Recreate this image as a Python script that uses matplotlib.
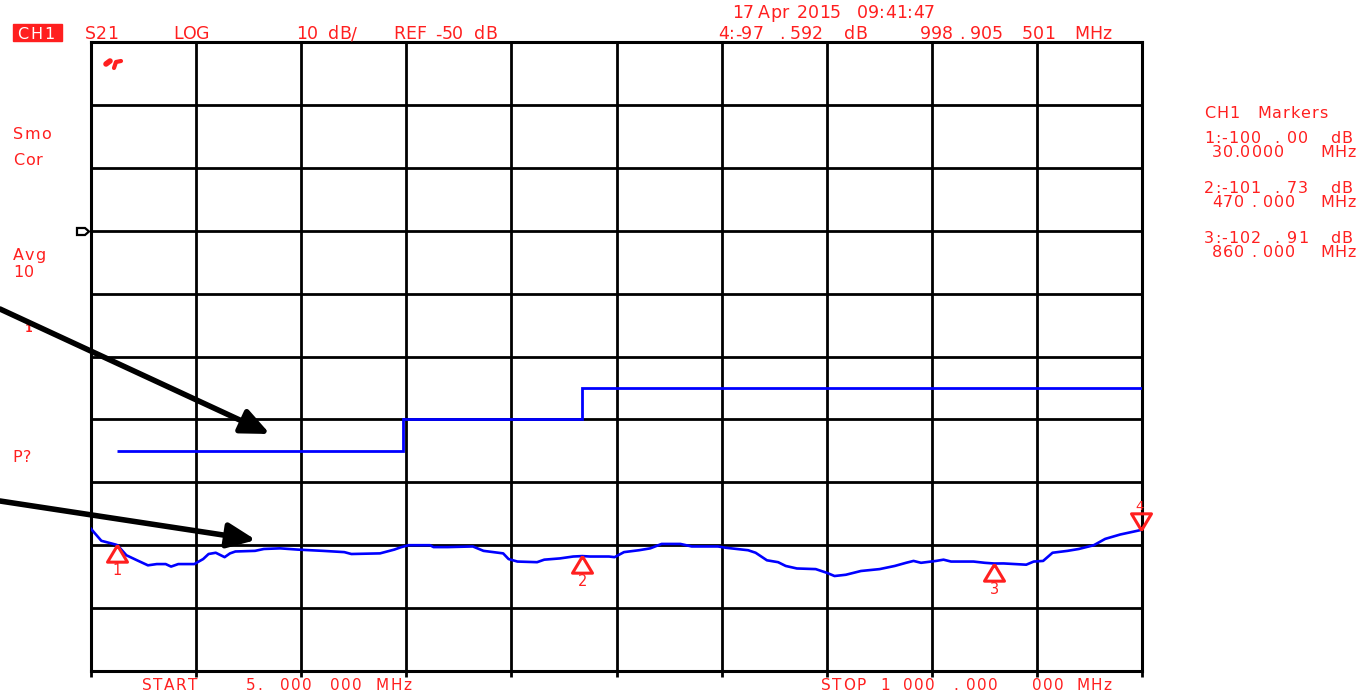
import numpy as np
import matplotlib
matplotlib.use("Agg")
import matplotlib.pyplot as plt
from matplotlib.patches import FancyArrowPatch, Polygon, ArrowStyle, Rectangle
from matplotlib.font_manager import FontProperties, findfont, get_font

# ---------------- data ----------------
freq_mhz = [5, 14.8, 28.4, 30, 38.5, 48.6, 58.9, 67.3, 75.7, 80.8, 87.6, 102.8,
            111.2, 116.3, 123.1, 131.5, 136.6, 141.7, 160.3, 168.7, 184, 200.8,
            224.5, 244.8, 251.5, 278.6, 292.1, 298.9, 305.6, 325.9, 329.3, 342.8,
            366.5, 376.6, 395.2, 400.3, 408.7, 427.3, 434.1, 449, 461.5, 470,
            477.5, 495.4, 500.7, 509.6, 523.8, 534.5, 545.2, 563, 573.7, 598.6,
            605.7, 627.1, 634.2, 644.9, 655.5, 662.7, 673.3, 691.1, 701.8, 708.9,
            719.6, 733.9, 751.6, 765.9, 776.6, 783.7, 790.8, 805, 812.1, 819.2,
            840.5, 851.2, 860, 869, 890.4, 897.5, 906.4, 915.3, 929.5, 940.2,
            954.4, 965.1, 979.4, 998.9, 1000]
s21_db = [-97.4, -99.3, -99.9, -100.0, -101.6, -102.4, -103.2, -103.0, -103.0, -103.4,
          -103.0, -103.0, -102.2, -101.4, -101.2, -101.9, -101.3, -101.0, -100.9,
          -100.6, -100.5, -100.7, -100.9, -101.1, -101.4, -101.3, -100.7, -100.3,
          -100.0, -100.0, -100.3, -100.3, -100.2, -100.9, -101.3, -102.2, -102.6,
          -102.7, -102.3, -102.1, -101.8, -101.73, -101.8, -101.8, -101.9, -101.1,
          -100.8, -100.5, -99.8, -99.8, -100.2, -100.2, -100.4, -100.8, -101.2,
          -102.4, -102.7, -103.3, -103.7, -103.8, -104.4, -104.9, -104.7, -104.1,
          -103.8, -103.3, -102.8, -102.5, -102.8, -102.5, -102.3, -102.6, -102.6,
          -102.8, -102.91, -102.9, -103.1, -102.6, -102.5, -101.2, -100.9, -100.6,
          -100.0, -99.0, -98.3, -97.59, -97.5]

limit_edges_mhz = [30, 300, 470, 1000]
limit_db = [-85, -80, -75]

marker_ids = ["1", "2", "3", "4"]
marker_freq = [30.0, 470.0, 860.0, 998.905501]
marker_db = [-100.00, -101.73, -102.91, -97.592]

start_mhz, stop_mhz = 5.0, 1000.0
ref_db, scale_db = -50, 10

# ---------------- figure ----------------
W, H = 1361, 692
plt.rcParams['font.family'] = ['DejaVu Sans']
fig = plt.figure(figsize=(W / 100, H / 100), dpi=100)
fig.patch.set_facecolor('white')

def fx(x):
    return x / W

def fy(y):
    return 1 - y / H

RED = '#ff1f1f'
BLUE = '#0000ff'

L, R, T, B = 91, 1142, 42, 671
ax = fig.add_axes([fx(L), fy(B), fx(R) - fx(L), fy(T) - fy(B)])
ax.set_xlim(start_mhz, stop_mhz)
ax.set_ylim(ref_db - 7 * scale_db, ref_db + 3 * scale_db)
ax.set_xticks(np.linspace(start_mhz, stop_mhz, 11))
ax.set_yticks(np.arange(ref_db - 7 * scale_db, ref_db + 3 * scale_db + 1, scale_db))
ax.grid(True, color='black', lw=2.0)
ax.set_axisbelow(True)
for s in ax.spines.values():
    s.set_linewidth(2.2)
    s.set_color('black')
ax.tick_params(axis='x', direction='out', length=4, width=2, labelbottom=False)
ax.tick_params(axis='y', length=0, labelleft=False)

# limit line
ax.stairs(limit_db, limit_edges_mhz, baseline=None, color=BLUE, lw=2.0, zorder=3)
# trace
ax.plot(freq_mhz, s21_db, color=BLUE, lw=1.9, zorder=4)

# markers
up_tri = [(0, 0), (-0.6, -1.0), (0.6, -1.0), (0, 0)]
dn_tri = [(0, 0), (-0.6, 1.0), (0.6, 1.0), (0, 0)]
for mid, f, d in zip(marker_ids, marker_freq, marker_db):
    if mid == "4":
        ax.plot([f], [d], marker=dn_tri, ms=24, mfc='none', mec=RED, mew=2.2,
                clip_on=False, zorder=6)
        ax.annotate(mid, (f, d), xytext=(-1, 17), textcoords='offset points',
                    ha='center', va='center', color=RED, fontsize=9.5,
                    annotation_clip=False)
    else:
        ax.plot([f], [d], marker=up_tri, ms=24, mfc='none', mec=RED, mew=2.2,
                clip_on=False, zorder=6)
        ax.annotate(mid, (f, d), xytext=(0, -18.5), textcoords='offset points',
                    ha='center', va='center', color=RED, fontsize=10.5,
                    annotation_clip=False)

# ---------------- tracked text helper ----------------
_font = get_font(findfont(FontProperties(family='DejaVu Sans')))

def _advances(s, size):
    try:
        _font.set_size(size, 100)
        return [_font.load_char(ord(c)).linearHoriAdvance / 65536 for c in s]
    except Exception:
        return [0.6 * size * 100 / 72 for c in s]

def ttext(tokens, y, size, track=0.0, color=RED, weight='normal'):
    """tokens: list of (x_left_px, string); y: centre of capitals (px)."""
    base = y + 0.729 * size * (100 / 72) / 2
    for x, s in tokens:
        cx = x
        for c, a in zip(s, _advances(s, size)):
            if c != ' ':
                fig.text(fx(cx), fy(base), c, fontsize=size, color=color,
                         ha='left', va='baseline', fontweight=weight)
            cx += a + track

# CH1 box
fig.add_artist(Rectangle((fx(13), fy(41)), fx(49), 17 / H, transform=fig.transFigure,
                         fc=RED, ec=RED, lw=1))
ttext([(17, "CH1")], 33, 11.5, track=2.0, color='white')

# header rows
ttext([(85, "S21"), (173, "LOG"), (296, "10"), (328, "dB/"),
       (393, "REF"), (435, "-50"), (474, "dB")], 33, 12.5)
ttext([(732, "17"), (758, "Apr"), (797, "2015"), (857, "09:41:47")], 12, 12.5)
ttext([(718, "4:-97"), (779, "."), (790, "592"), (844, "dB"),
       (920, "998"), (959, "."), (970, "905"), (1022, "501"), (1074, "MHz")], 33, 12.5)

# right marker panel
PS, PT = 11.5, 1.0
ttext([(1204, "CH1"), (1257, "Markers")], 112, PS, track=PT)
panel = [("1:-100", "00", [(1212, "30.0000")], 137),
         ("2:-101", "73", [(1212, "470"), (1251, "."), (1263, "000")], 187),
         ("3:-102", "91", [(1212, "860"), (1251, "."), (1263, "000")], 237)]
for a, b, c, y in panel:
    ttext([(1204, a), (1274, "."), (1287, b), (1330, "dB")], y, PS, track=PT)
    ttext(c + [(1320, "MHz")], y + 14, PS, track=PT)

# left annotations
LS, LT = 11.5, 1.0
ttext([(13, "Smo")], 133, LS, track=LT)
ttext([(13, "Cor")], 159, LS, track=LT)
ttext([(13, "Avg")], 254, LS, track=LT)
ttext([(13, "10")], 271, LS, track=LT)
ttext([(12, "P?")], 456, LS, track=LT)

# bottom labels
ttext([(142, "START"), (246, "5."), (280, "000"), (330, "000"), (376, "MHz")], 684, 11, track=1.5)
ttext([(821, "STOP"), (880, "1"), (903, "000"), (953, "."), (966, "000"),
       (1032, "000"), (1076, "MHz")], 684, 11, track=1.5)

# small red symbol near top left
fig.add_artist(plt.Line2D([fx(106), fx(110)], [fy(64), fy(61)], color=RED, lw=4,
                          solid_capstyle='round'))
fig.add_artist(plt.Line2D([fx(114), fx(116), fx(121)], [fy(68), fy(62), fy(61)],
                          color=RED, lw=3, solid_capstyle='round'))

# reference level flag
flag = Polygon([(fx(77), fy(228)), (fx(85), fy(228)), (fx(89), fy(231.5)),
                (fx(85), fy(235)), (fx(77), fy(235))], closed=True,
               fc='white', ec='black', lw=1.6, transform=fig.transFigure)
fig.add_artist(flag)

# black annotation arrows
style = ArrowStyle('-|>', head_length=17, head_width=7.5)
for (x0, y0), (x1, y1) in [((0, 309), (270, 434)), ((0, 501), (256, 540))]:
    arr = FancyArrowPatch((fx(x0), fy(y0)), (fx(x1), fy(y1)),
                          transform=fig.transFigure, arrowstyle=style,
                          mutation_scale=1, lw=4, color='black',
                          shrinkA=0, shrinkB=0, zorder=10)
    fig.add_artist(arr)

# small red "1" left of the grid, below the arrow
ttext([(25, "1")], 328, 8, weight='bold')

fig.savefig("out.png", dpi=100, facecolor='white')
